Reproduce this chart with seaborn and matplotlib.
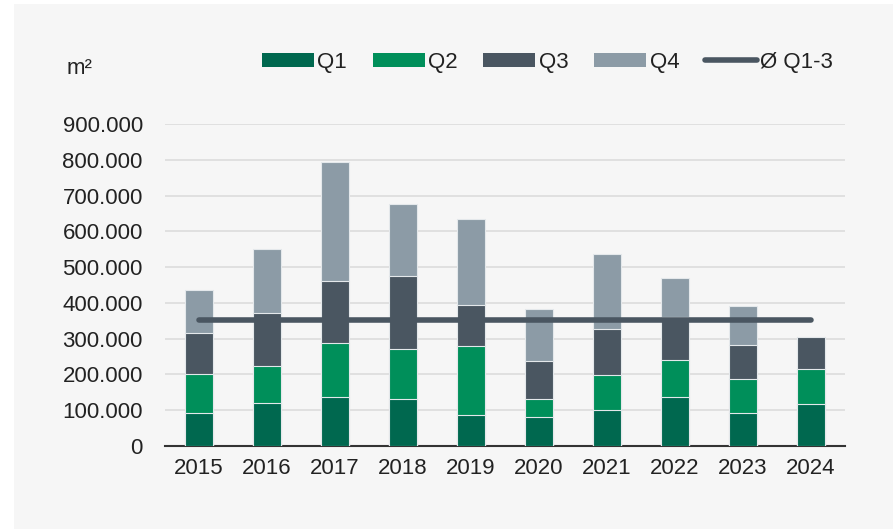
import matplotlib
matplotlib.use("Agg")
import matplotlib.pyplot as plt
import seaborn as sns
import pandas as pd
import numpy as np
from matplotlib.patches import Patch, Rectangle
from matplotlib.lines import Line2D

# Werte in m² je Quartal
years = ["2015", "2016", "2017", "2018", "2019", "2020", "2021", "2022", "2023", "2024"]
q1 = [91000, 121000, 136000, 130000, 88000, 80000, 100000, 136000, 91000, 117000]
q2 = [110000, 102000, 153000, 141000, 191000, 50000, 99000, 104000, 97000, 97000]
q3 = [116000, 150000, 172000, 204000, 116000, 108000, 129000, 120000, 95000, 91000]
q4 = [119000, 177000, 334000, 201000, 239000, 145000, 209000, 110000, 109000, 0]

quarters = ["Q1", "Q2", "Q3", "Q4"]
colors = ["#00684f", "#008f5a", "#4a5661", "#8c9ba6"]
line_color = "#4a5661"

sns.set_theme(style="white")
plt.rcParams["font.family"] = ["Liberation Sans", "DejaVu Sans"]

df = pd.DataFrame({"Jahr": years, "Q1": q1, "Q2": q2, "Q3": q3, "Q4": q4})
cum = df[quarters].cumsum(axis=1)
df_cum = pd.concat([df[["Jahr"]], cum], axis=1)
avg_q13 = cum["Q3"].mean()

fig = plt.figure(figsize=(8.93, 5.29), dpi=100)
fig.patch.set_facecolor("white")
fig.patches.append(Rectangle((14 / 893, 0), 1, 1 - 4 / 529, transform=fig.transFigure,
                             facecolor="#f6f6f6", edgecolor="none", zorder=-10))
ax = fig.add_axes([0.1848, 0.1569, 0.7615, 0.6087])
ax.set_facecolor("#f6f6f6")

# gestapelt: Summen von oben nach unten übereinander zeichnen
for q, c in zip(reversed(quarters), reversed(colors)):
    sns.barplot(data=df_cum, x="Jahr", y=q, order=years, color=c, width=0.4,
                edgecolor="#e4e8eb", linewidth=0.8, saturation=1, ax=ax, zorder=3)

ax.plot(range(len(years)), [avg_q13] * len(years), color=line_color, lw=4,
        solid_capstyle="round", zorder=5)

ax.set_ylim(0, 900000)
ax.set_xlim(-0.5, 9.5)
yt = np.arange(0, 900001, 100000)
ax.set_yticks(yt)
ax.set_yticklabels([f"{v:,.0f}".replace(",", ".") for v in yt])
ax.yaxis.grid(True, color="#dcdcdc", lw=1.2, zorder=0)
ax.set_axisbelow(True)
ax.tick_params(axis="y", length=0, pad=16, labelsize=16, labelcolor="#222222")
ax.tick_params(axis="x", length=0, pad=9, labelsize=16, labelcolor="#222222")
ax.set_xlabel("")
ax.set_ylabel("")
for s in ["top", "right", "left"]:
    ax.spines[s].set_visible(False)
ax.spines["bottom"].set_color("#333333")
ax.spines["bottom"].set_linewidth(1.5)

fig.text(0.075, 0.871, "m²", fontsize=16, color="#222222", va="center", ha="left")

handles = [Patch(facecolor=c, edgecolor="none") for c in colors]
handles.append(Line2D([0], [0], color=line_color, lw=4, solid_capstyle="round"))
labels = quarters + ["Ø Q1-3"]
fig.legend(handles, labels, loc="center", bbox_to_anchor=(0.613, 0.882), ncol=5,
           frameon=False, fontsize=16, handlelength=2.35, handleheight=0.6,
           handletextpad=0.15, columnspacing=1.15, labelcolor="#222222")

fig.savefig("out.png", dpi=100, facecolor=fig.get_facecolor())
